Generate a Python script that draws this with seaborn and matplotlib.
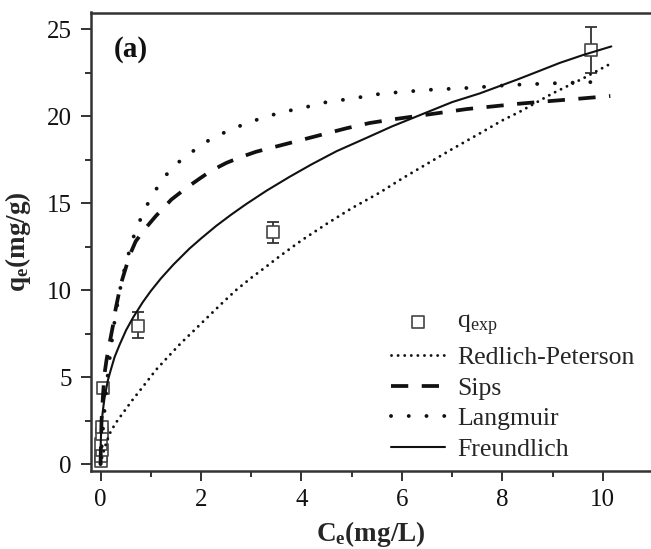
import matplotlib
matplotlib.use("Agg")
import matplotlib.pyplot as plt
from matplotlib.ticker import MultipleLocator
import seaborn as sns

# ---------------- data ----------------
ce_exp = [0.00, 0.01, 0.02, 0.01, 0.02, 0.03, 0.05, 0.74, 3.43, 9.77]
qe_exp = [0.15, 0.45, 0.80, 1.15, 1.75, 2.10, 4.35, 7.95, 13.35, 23.80]
qe_err_lo = [0.0, 0.0, 0.0, 0.0, 0.0, 0.0, 0.0, 0.73, 0.67, 1.35]
qe_err_hi = [0.0, 0.0, 0.0, 0.0, 0.0, 0.0, 0.0, 0.80, 0.57, 1.30]

rp_x = [0.0, 0.02, 0.05, 0.1, 0.15, 0.2, 0.3, 0.4, 0.54, 0.6, 0.75, 0.94, 1.1,
        1.34, 1.6, 1.87, 2.1, 2.44, 2.7, 3.0, 3.3, 3.57, 4.0, 4.5, 5.0, 5.56,
        6.0, 6.5, 7.0, 7.55, 8.0, 8.35, 9.0, 9.6, 10.15]
rp_y = [0.0, 0.25, 0.6, 1.1, 1.5, 1.85, 2.35, 2.75, 3.3, 3.55, 4.1, 4.8, 5.4,
        6.15, 6.95, 7.7, 8.35, 9.3, 10.0, 10.7, 11.35, 11.95, 12.85, 13.8, 14.7,
        15.6, 16.4, 17.25, 18.1, 19.0, 19.75, 20.25, 21.3, 22.15, 23.0]

sips_x = [0.0, 0.01, 0.02, 0.05, 0.08, 0.12, 0.18, 0.25, 0.3, 0.4, 0.5, 0.58,
          0.7, 0.88, 1.1, 1.41, 1.7, 1.97, 2.2, 2.5, 2.8, 3.1, 3.7, 4.1, 4.5,
          4.9, 5.36, 5.8, 6.3, 6.8, 7.29, 7.8, 8.3, 8.9, 9.54, 10.15]
sips_y = [0.0, 1.5, 2.5, 4.0, 5.2, 6.0, 6.95, 8.0, 8.9, 10.3, 11.25, 12.0,
          12.8, 13.5, 14.25, 15.2, 15.85, 16.4, 16.85, 17.3, 17.65, 17.95, 18.4,
          18.7, 19.0, 19.3, 19.6, 19.8, 20.0, 20.2, 20.4, 20.55, 20.7, 20.85,
          21.0, 21.15]

lang_x = [0.0, 0.02, 0.05, 0.1, 0.15, 0.2, 0.25, 0.3, 0.35, 0.4, 0.45, 0.5,
          0.57, 0.63, 0.69, 0.76, 0.83, 0.91, 1.0, 1.11, 1.22, 1.36, 1.5, 1.69,
          1.85, 2.03, 2.25, 2.5, 2.75, 3.0, 3.2, 3.57, 4.0, 4.5, 5.0, 5.62, 6.0,
          6.5, 7.0, 7.35, 8.0, 8.3, 9.0, 9.2, 10.0]
lang_y = [0.0, 0.9, 2.1, 3.8, 5.3, 6.5, 7.6, 8.6, 9.4, 10.2, 10.85, 11.5,
          12.2, 12.8, 13.35, 13.8, 14.35, 14.8, 15.27, 15.8, 16.3, 16.8, 17.2,
          17.7, 18.0, 18.4, 18.75, 19.1, 19.4, 19.7, 19.85, 20.2, 20.45, 20.8,
          21.0, 21.3, 21.38, 21.5, 21.57, 21.62, 21.75, 21.8, 21.88, 21.9, 21.97]

fr_x = [0.0, 0.003, 0.006, 0.01, 0.015, 0.02, 0.03, 0.04, 0.06, 0.08, 0.11,
        0.145, 0.2, 0.28, 0.38, 0.51, 0.65, 0.84, 1.0, 1.2, 1.45, 1.77, 2.0,
        2.3, 2.6, 2.9, 3.3, 3.76, 4.2, 4.7, 5.3, 5.8, 6.4, 7.0, 7.55, 8.3, 8.7,
        9.14, 9.6, 10.17]
fr_y = [0.0, 1.07, 1.40, 1.70, 1.99, 2.22, 2.60, 2.90, 3.38, 3.80, 4.27,
        4.80, 5.37, 6.15, 6.86, 7.70, 8.43, 9.30, 9.94, 10.66, 11.46, 12.38,
        12.96, 13.68, 14.33, 14.94, 15.70, 16.50, 17.22, 17.98, 18.75, 19.4,
        20.1, 20.8, 21.3, 22.1, 22.55, 23.05, 23.5, 24.0]

legend_labels = ["q$_{\\mathrm{exp}}$", "Redlich-Peterson", "Sips", "Langmuir", "Freundlich"]
x_ticks = [0, 2, 4, 6, 8, 10]
y_ticks = [0, 5, 10, 15, 20, 25]

# ---------------- style ----------------
sns.set_style("ticks")
plt.rcParams["font.family"] = ["Liberation Serif", "DejaVu Serif"]
plt.rcParams["mathtext.fontset"] = "custom"
plt.rcParams["mathtext.rm"] = "Liberation Serif"
plt.rcParams["mathtext.it"] = "Liberation Serif:italic"
plt.rcParams["mathtext.bf"] = "Liberation Serif:bold"

W, H = 651, 549
fig = plt.figure(figsize=(W / 100, H / 100), dpi=100)
ax = fig.add_axes([91 / W, 1 - 471 / H, 1 - 91 / W, (471 - 12.5) / H])

ink = "#111111"

# experimental points with error bars
ax.errorbar(ce_exp, qe_exp, yerr=[qe_err_lo, qe_err_hi], fmt="none",
            ecolor="#333333", elinewidth=1.3, capsize=4.5, capthick=1.3, zorder=2)
sns.scatterplot(x=ce_exp, y=qe_exp, ax=ax, marker="s", s=78, facecolor="white",
                edgecolor="#444444", linewidth=1.2, zorder=3, label=legend_labels[0])

# model curves
sns.lineplot(x=rp_x, y=rp_y, ax=ax, color=ink, lw=2.1,
             linestyle=(0, (0.01, 2.25)), dash_capstyle="round",
             label=legend_labels[1], zorder=4)
sns.lineplot(x=sips_x, y=sips_y, ax=ax, color=ink, lw=2.7,
             linestyle=(0, (4.6, 3.6)), dash_capstyle="butt",
             label=legend_labels[2], zorder=4)
sns.lineplot(x=lang_x, y=lang_y, ax=ax, color=ink, lw=2.8,
             linestyle=(0, (0.01, 4.55)), dash_capstyle="round",
             label=legend_labels[3], zorder=4)
sns.lineplot(x=fr_x, y=fr_y, ax=ax, color=ink, lw=1.5,
             label=legend_labels[4], zorder=4)

# axes
ax.set_xlim(-0.19, 10.96)
ax.set_ylim(-0.4, 25.95)
ax.set_xticks(x_ticks)
ax.set_yticks(y_ticks)
ax.xaxis.set_minor_locator(MultipleLocator(1))
ax.yaxis.set_minor_locator(MultipleLocator(2.5))
ax.tick_params(axis="both", which="major", direction="out", length=7, width=1.3,
               colors="#222222", labelsize=18, labelcolor="#111111")
ax.tick_params(axis="both", which="minor", direction="out", length=4.5, width=1.3,
               colors="#222222")
ax.tick_params(axis="y", pad=7)
ax.tick_params(axis="x", pad=6)
for side in ["left", "bottom", "top"]:
    ax.spines[side].set_visible(True)
    ax.spines[side].set_linewidth(1.8)
    ax.spines[side].set_color("#333333")
ax.spines["right"].set_visible(False)

ax.set_xlabel("C$_{\\mathbf{e}}$(mg/L)", fontsize=19.5, fontweight="bold", labelpad=6)
ax.set_ylabel("q$_{\\mathbf{e}}$(mg/g)", fontsize=19.5, fontweight="bold", labelpad=10)

ax.text(0.04, 0.92, "(a)", transform=ax.transAxes, fontsize=21, fontweight="bold",
        ha="left", va="center", color=ink)

handles, labels = ax.get_legend_handles_labels()
leg = ax.legend(handles, labels, loc="upper left", bbox_to_anchor=(0.535, 0.35),
                frameon=False, fontsize=18.5, handlelength=2.1, handletextpad=0.5,
                labelspacing=0.3, borderpad=0, borderaxespad=0)

fig.savefig("out.png", dpi=100)
